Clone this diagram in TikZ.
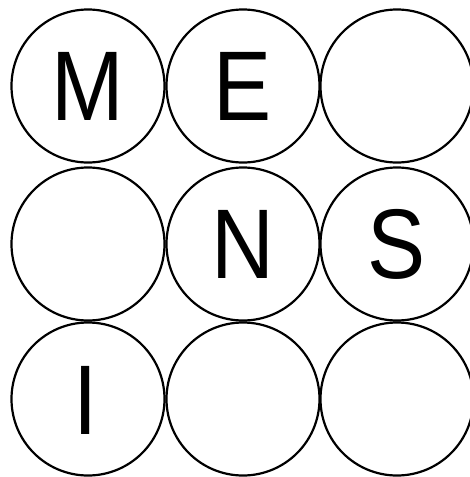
\documentclass[tikz,border=0pt]{standalone}
\usepackage{fontspec}
\setmainfont{Liberation Sans}
\newfontfamily\letterfont[FakeStretch=0.88]{Liberation Sans}
\begin{document}
\begin{tikzpicture}[x=1pt,y=-1pt,
  ball/.style={circle,draw=black,line width=2.2pt,minimum size=153pt,inner sep=0pt,
    font=\letterfont\fontsize{99}{99}\selectfont}]
\useasboundingbox (0,0) rectangle (469,477);
\node[ball] (a1) at (88,86) {M};
\node[ball] (a2) at (243,86) {E};
\node[ball] (a3) at (397,86) {};
\node[ball] (b1) at (88,244) {};
\node[ball] (b2) at (243,244) {N};
\node[ball] (b3) at (397,244) {S};
\node[ball] (c1) at (88,399) {};
\node (ci) at (85.5,400) {\letterfont\fontsize{99}{99}\selectfont I};
\node[ball] (c2) at (243,399) {};
\node[ball] (c3) at (397,399) {};
\end{tikzpicture}
\end{document}
